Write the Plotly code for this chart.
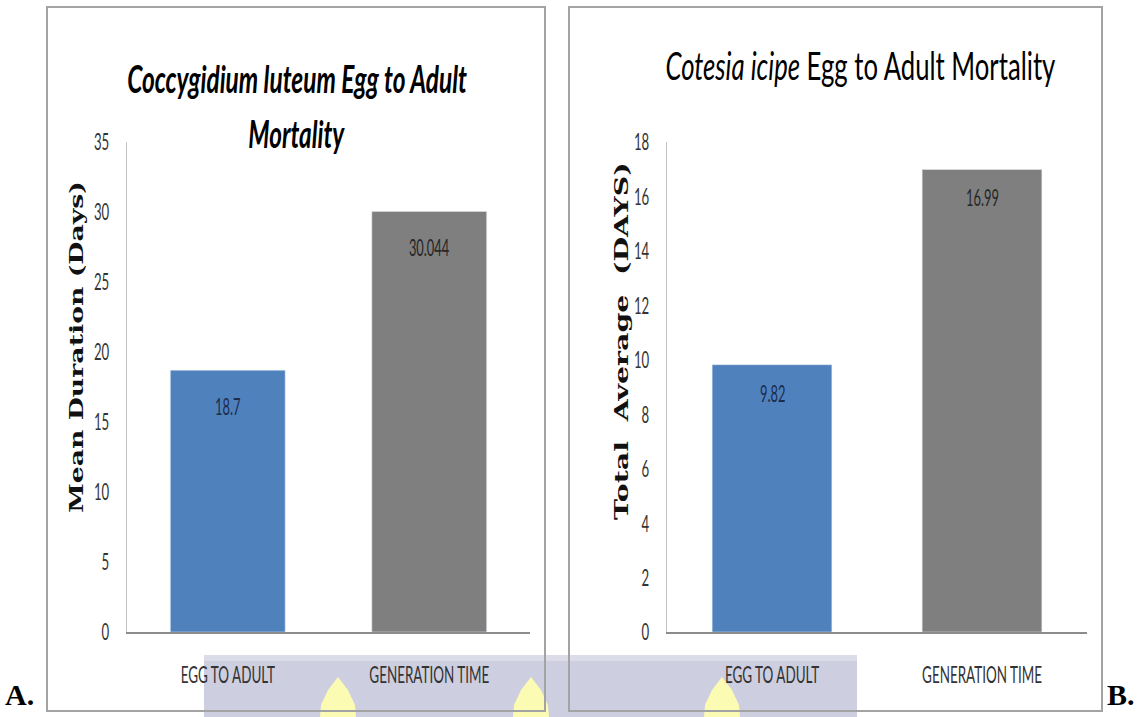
import json
import plotly.graph_objects as go

# ---- data -------------------------------------------------------------
categories = ["EGG TO ADULT", "GENERATION TIME"]
luteum_days = [18.7, 30.044]      # Coccygidium luteum, mean duration (days)
icipe_days = [9.82, 16.99]        # Cotesia icipe, total average (days)
luteum_ticks = [0, 5, 10, 15, 20, 25, 30, 35]
icipe_ticks = [0, 2, 4, 6, 8, 10, 12, 14, 16, 18]

# ---- styling ----------------------------------------------------------
W, H = 1139, 717
bar_colors = ["#4f81bd", "#7f7f7f"]
value_colors = ["#1c2c4c", "#262626"]
SANS = "Lato, Open Sans, sans-serif"
SERIF_BOLD = "DejaVu Serif, Liberation Serif, serif"


def fx(x):
    return x / W


def fy(y):
    return 1 - y / H


fig = go.Figure()
fig.add_trace(go.Bar(x=categories, y=luteum_days, marker_color=bar_colors,
                     width=0.57, xaxis="x", yaxis="y", hoverinfo="skip"))
fig.add_trace(go.Bar(x=categories, y=icipe_days, marker_color=bar_colors,
                     width=0.57, xaxis="x2", yaxis="y2", hoverinfo="skip"))

common_x = dict(showline=True, linecolor="#8c8c8c", linewidth=2, ticks="",
                showgrid=False, zeroline=False, ticklabelstandoff=20,
                automargin=False,
                tickfont=dict(family=SANS, size=24, color="#333333"),
                fixedrange=True)
common_y = dict(showline=True, linecolor="#c4c4c4", linewidth=1, ticks="",
                showgrid=False, zeroline=False, ticklabelstandoff=12,
                automargin=False,
                tickfont=dict(family=SANS, size=24, color="#333333"),
                fixedrange=True)

fig.update_layout(
    width=W, height=H,
    margin=dict(l=0, r=0, t=0, b=0, pad=0, autoexpand=False),
    paper_bgcolor="white", plot_bgcolor="rgba(0,0,0,0)",
    showlegend=False,
    xaxis=dict(domain=[fx(127), fx(530)], anchor="y", **common_x),
    yaxis=dict(domain=[fy(632), fy(142)], anchor="x", range=[0, 35],
               tickvals=luteum_ticks, **common_y),
    xaxis2=dict(domain=[fx(667), fx(1087)], anchor="y2", **common_x),
    yaxis2=dict(domain=[fy(632), fy(142)], anchor="x2", range=[0, 18],
                tickvals=icipe_ticks, **common_y),
)

annotations = []
# value labels inside the bars
for xr, yr, vals, shift in (("x", "y", luteum_days, -20), ("x2", "y2", icipe_days, -12)):
    for cat, v, col in zip(categories, vals, value_colors):
        annotations.append(dict(x=cat, y=v, xref=xr, yref=yr, text=f"{v:g}",
                                showarrow=False, xanchor="center", yanchor="top",
                                yshift=shift,
                                font=dict(family=SANS, size=23, color=col)))


def paper_note(x, y, text, font, **kw):
    return dict(x=fx(x), y=fy(y), xref="paper", yref="paper", text=text,
                showarrow=False, xanchor="center", yanchor="middle",
                font=font, **kw)


# chart titles
title_font = dict(family=SANS, size=38, color="black")
annotations += [
    paper_note(297, 78, "<b><i>Coccygidium luteum Egg to Adult</i></b>", title_font),
    paper_note(297, 133, "<b><i>Mortality</i></b>", title_font),
    paper_note(860, 65, "<i>Cotesia icipe</i> Egg to Adult Mortality", title_font),
]

# axis titles
ytitle_font = dict(family=SERIF_BOLD, size=19, color="#111111")
annotations += [
    paper_note(76, 347, "<b>Mean Duration (Days)</b>", ytitle_font, textangle=-90),
    paper_note(621, 341, "<b>Total\u00a0 Average\u00a0 (DAYS)</b>", ytitle_font, textangle=-90),
]

# panel letters
letter_font = dict(family="Liberation Serif, serif", size=30, color="black")
annotations += [
    paper_note(19, 694, "<b>A.</b>", letter_font),
    paper_note(1121, 694, "<b>B.</b>", letter_font),
]
fig.update_layout(annotations=annotations)

# background strip with flame marks along the bottom, then the panel frames
shapes = [
    dict(type="rect", xref="paper", yref="paper", layer="below",
         x0=fx(204), x1=fx(857), y0=fy(717), y1=fy(655),
         fillcolor="#cdcee0", line=dict(width=0)),
    dict(type="rect", xref="paper", yref="paper", layer="below",
         x0=fx(204), x1=fx(857), y0=fy(661), y1=fy(655),
         fillcolor="#dcdce9", line=dict(width=0)),
]
for cx in (338, 531, 722):
    pts = [(cx, 677), (cx + 10, 690), (cx + 17, 705), (cx + 18, 717),
           (cx - 18, 717), (cx - 17, 705), (cx - 10, 690)]
    path = "M " + " L ".join(f"{fx(a):.5f},{fy(b):.5f}" for a, b in pts) + " Z"
    shapes.append(dict(type="path", xref="paper", yref="paper", layer="below",
                       path=path, fillcolor="#fbfbb4", line=dict(width=0)))
for x0, x1 in ((47, 545), (569, 1102)):
    shapes.append(dict(type="rect", xref="paper", yref="paper", layer="below",
                       x0=fx(x0), x1=fx(x1), y0=fy(711), y1=fy(7),
                       line=dict(color="#a3a3a3", width=2), fillcolor="rgba(0,0,0,0)"))
fig.update_layout(shapes=shapes)

# The chart text is set in a condensed cut: narrow each text horizontally about
# its anchor point, either by a fixed factor or to a given rendered length.
title_lengths = {
    "Coccygidium luteum Egg to Adult": 340,
    "Mortality": 96,
    "Cotesia icipe Egg to Adult Mortality": 390,
    "Mean Duration (Days)": 332,
    "Total\u00a0 Average\u00a0 (DAYS)": 358,
}
value_texts = [f"{v:g}" for v in luteum_days + icipe_days]
condense_js = """
(function () {
  var lengths = %s;
  var values = %s;
  function squeeze(t, s) {
    var x = parseFloat(t.getAttribute('x')) || 0;
    var base = t.getAttribute('transform') || '';
    t.setAttribute('transform', base + ' translate(' + x + ',0) scale(' + s.toFixed(4) +
                   ',1) translate(' + (-x) + ',0)');
  }
  document.querySelectorAll('.xtick text, .x2tick text').forEach(function (t) {
    squeeze(t, 0.56);
  });
  document.querySelectorAll('.ytick text, .y2tick text').forEach(function (t) {
    squeeze(t, 0.55);
  });
  document.querySelectorAll('text.annotation-text').forEach(function (t) {
    var s = t.textContent;
    if (lengths[s]) { squeeze(t, lengths[s] / t.getComputedTextLength()); }
    else if (values.indexOf(s) >= 0) { squeeze(t, 0.56); }
  });
})();
""" % (json.dumps(title_lengths), json.dumps(value_texts))
fig.write_html("out.html", post_script=condense_js)
